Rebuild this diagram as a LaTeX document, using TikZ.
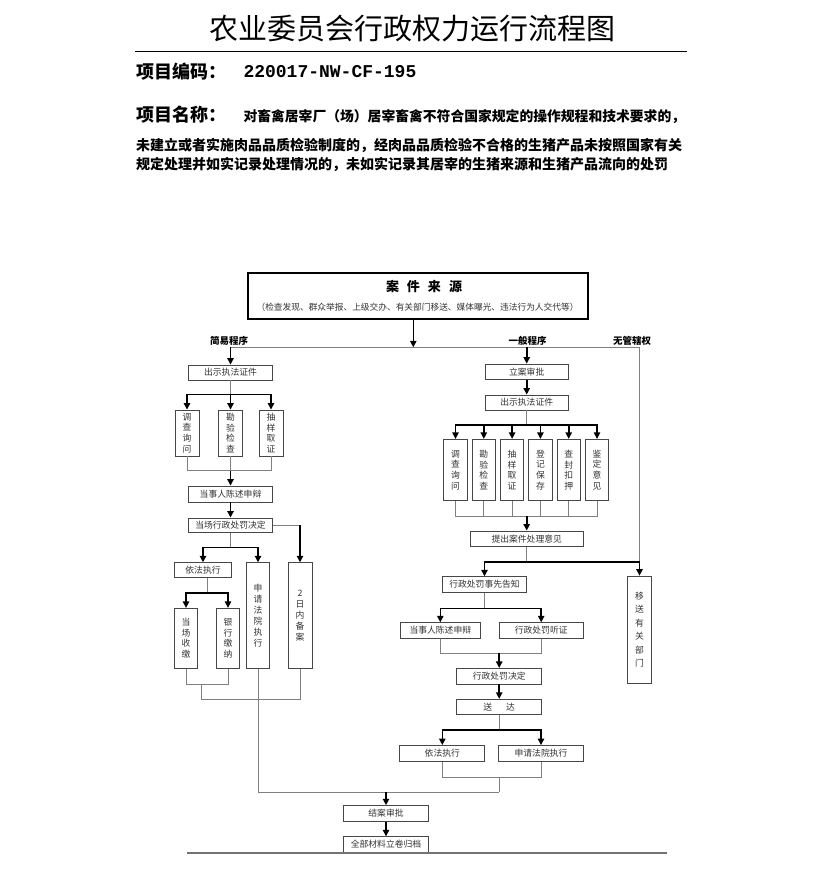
\documentclass[tikz,border=0pt]{standalone}
\usepackage{fontspec}
\usetikzlibrary{arrows.meta}
\newfontfamily\cjk{Noto Sans CJK SC}
\newfontfamily\codefont{Liberation Mono}
\definecolor{thinc}{gray}{0.5}
\definecolor{boxc}{gray}{0.28}
\definecolor{txtc}{gray}{0.2}
\tikzset{
  hbox/.style={draw=boxc, line width=0.8pt, fill=white, inner sep=0pt, font=\cjk\fontsize{8.8}{10}\selectfont, text=txtc, align=center},
  vbox/.style={hbox, font=\cjk\fontsize{8.8}{10.7}\selectfont},
  thinline/.style={draw=thinc, line width=0.9pt},
  arr/.style={draw=black, line width=1.6pt, -{Triangle[length=6.5pt,width=6.3pt]}},
  arrtwo/.style={draw=black, line width=1.6pt, line join=miter, {Triangle[length=6.5pt,width=6.3pt]}-{Triangle[length=6.5pt,width=6.3pt]}},
  lbl/.style={font=\cjk\bfseries\fontsize{9.5}{11}\selectfont, inner sep=0pt},
}
\begin{document}
\begin{tikzpicture}[x=1pt,y=-1pt]
\useasboundingbox (0,0) rectangle (823,873);
\fill[white] (0,0) rectangle (823,873);

% ---------- header ----------
\node[font=\cjk\fontsize{29}{32}\selectfont, inner sep=0pt] (title) at (412,29) {农业委员会行政权力运行流程图};
\draw[line width=0.9pt] (135,51.7) -- (687,51.7);
\node[anchor=west, font=\cjk\bfseries\fontsize{18}{20}\selectfont, inner sep=0pt] (codek) at (136,72) {项目编码：};
\node[anchor=west, font=\codefont\bfseries\fontsize{18}{20}\selectfont, inner sep=0pt] (codev) at (243.3,72) {220017-NW-CF-195};
\node[anchor=west, font=\cjk\bfseries\fontsize{18}{20}\selectfont, inner sep=0pt] (namek) at (136,114.5) {项目名称：};
\node[anchor=west, font=\cjk\bfseries\fontsize{13.8}{16}\selectfont, inner sep=0pt] (name1) at (243.3,116.7) {对畜禽居宰厂（场）居宰畜禽不符合国家规定的操作规程和技术要求的，};
\node[anchor=west, font=\cjk\bfseries\fontsize{14}{16}\selectfont, inner sep=0pt] (name2) at (136,145) {未建立或者实施肉品品质检验制度的，经肉品品质检验不合格的生猪产品未按照国家有关};
\node[anchor=west, font=\cjk\bfseries\fontsize{14}{16}\selectfont, inner sep=0pt] (name3) at (136,164.3) {规定处理并如实记录处理情况的，未如实记录其居宰的生猪来源和生猪产品流向的处罚};

% ---------- source box ----------
\node[draw=black, line width=1.8pt, minimum width=340pt, minimum height=46.6pt, inner sep=0pt] (src) at (418.3,296) {};
\node[font=\cjk\bfseries\fontsize{13}{15}\selectfont, inner sep=0pt] (srct) at (424,286.7) {案\hspace{8pt}件\hspace{8pt}来\hspace{8pt}源};
\node[font=\cjk\fontsize{8.7}{10}\selectfont, text=txtc, inner sep=0pt] (srcs) at (417.5,306.7) {（检查发现、群众举报、上级交办、有关部门移送、媒体曝光、违法行为人交代等）};

\coordinate (j0) at (413.3,347.3);
\coordinate (jL) at (230.5,347.3);
\coordinate (jR) at (526.7,347.3);
\coordinate (jX) at (639.5,347.3);
\coordinate (jX2) at (639.5,561.7);

\node[lbl] (lab1) at (229,340.5) {简易程序};
\node[lbl] (lab2) at (527.5,340.5) {一般程序};
\node[lbl] (lab3) at (632,340.5) {无管辖权};

% ---------- left column ----------
\node[hbox, minimum width=84.4pt, minimum height=15pt] (L1) at (230.5,372.5) {出示执法证件};
\node[vbox, minimum width=24pt, minimum height=46pt] (L1a) at (187,433) {调\\查\\询\\问};
\node[vbox, minimum width=24pt, minimum height=46pt] (L1b) at (230.5,433) {勘\\验\\检\\查};
\node[vbox, minimum width=24pt, minimum height=46pt] (L1c) at (271,433) {抽\\样\\取\\证};
\node[hbox, minimum width=84.4pt, minimum height=16pt] (L2) at (230.5,494) {当事人陈述申辩};
\node[hbox, minimum width=84.4pt, minimum height=14.7pt] (L3) at (230.5,525.3) {当场行政处罚决定};
\node[hbox, minimum width=56.7pt, minimum height=15pt] (L4) at (203,570.2) {依法执行};
\node[vbox, minimum width=23.3pt, minimum height=105.6pt, font=\cjk\fontsize{8.8}{11}\selectfont] (L5) at (258,615.5) {申\\请\\法\\院\\执\\行};
\node[vbox, minimum width=24pt, minimum height=105.6pt, font=\cjk\fontsize{8.8}{11}\selectfont] (L6) at (300,615.5) {2\\日\\内\\备\\案};
\node[vbox, minimum width=23.4pt, minimum height=60pt] (L7) at (186,638.3) {当\\场\\收\\缴};
\node[vbox, minimum width=22.6pt, minimum height=60pt] (L8) at (228,638.3) {银\\行\\缴\\纳};

% ---------- right column ----------
\node[hbox, minimum width=83.3pt, minimum height=15.3pt] (R1) at (526.7,371.7) {立案审批};
\node[hbox, minimum width=83.3pt, minimum height=15pt] (R2) at (526.7,402.5) {出示执法证件};
\node[vbox, minimum width=23.3pt, minimum height=61.4pt] (Ra) at (455.5,470) {调\\查\\询\\问};
\node[vbox, minimum width=23.3pt, minimum height=61.4pt] (Rb) at (483.8,470) {勘\\验\\检\\查};
\node[vbox, minimum width=23.3pt, minimum height=61.4pt] (Rc) at (512.1,470) {抽\\样\\取\\证};
\node[vbox, minimum width=23.3pt, minimum height=61.4pt] (Rd) at (540.4,470) {登\\记\\保\\存};
\node[vbox, minimum width=23.3pt, minimum height=61.4pt] (Re) at (568.7,470) {查\\封\\扣\\押};
\node[vbox, minimum width=23.3pt, minimum height=61.4pt] (Rf) at (597,470) {鉴\\定\\意\\见};
\node[hbox, minimum width=113.3pt, minimum height=15.7pt] (R3) at (526.7,538.8) {提出案件处理意见};
\node[hbox, minimum width=84pt, minimum height=15.6pt] (R4) at (484.5,584.5) {行政处罚事先告知};
\node[vbox, minimum width=23.3pt, minimum height=107.3pt, font=\cjk\fontsize{8.8}{13.5}\selectfont] (RX) at (639.5,629.7) {移\\送\\有\\关\\部\\门};
\node[hbox, minimum width=79.3pt, minimum height=15.6pt] (R5) at (440.3,630.5) {当事人陈述申辩};
\node[hbox, minimum width=84.3pt, minimum height=15.6pt] (R6) at (541.2,630.5) {行政处罚听证};
\node[hbox, minimum width=85pt, minimum height=15.7pt] (R7) at (499.2,676.2) {行政处罚决定};
\node[hbox, minimum width=85pt, minimum height=15pt] (R8) at (499.2,706.8) {送\hspace{14pt}达};
\node[hbox, minimum width=85pt, minimum height=16pt] (R9) at (442.3,753.5) {依法执行};
\node[hbox, minimum width=84.6pt, minimum height=16pt] (R10) at (541,753.5) {申请法院执行};

% ---------- bottom ----------
\node[hbox, minimum width=85pt, minimum height=15.7pt] (B1) at (386,813.5) {结案审批};
\node[hbox, minimum width=85pt, minimum height=15.5pt] (B2) at (386,844.5) {全部材料立卷归档};
\draw[draw=black!55, line width=1.6pt] (187,853) -- (667,853);

% ---------- connectors: top ----------
\draw[arr] (src.south -| j0) -- (j0);
\draw[thinline] (jL) -- (jX);
\draw[arr] (jL) -- (L1.north);
\draw[arr] (jR) -- (R1.north);
\draw[thinline] (jX) -- (jX2);

% ---------- connectors: left ----------
\coordinate (b1) at (230.5,394.3);
\draw[thinline] (L1.south) -- (b1);
\draw[arrtwo] (L1a.north) -- (L1a.north |- b1) -- (L1c.north |- b1) -- (L1c.north);
\draw[arr] (b1) -- (L1b.north);
\coordinate (c1) at (230.5,470.7);
\draw[thinline] (L1a.south) -- (L1a.south |- c1) -- (L1c.south |- c1) -- (L1c.south);
\draw[thinline] (L1b.south) -- (c1);
\draw[arr] (c1) -- (L2.north);
\draw[arr] (L2.south) -- (L3.north);
\coordinate (k1) at (300,525.3);
\draw[thinline] (L3.east) -- (k1);
\draw[arr] (k1) -- (L6.north);
\coordinate (b2) at (230.5,547.3);
\draw[thinline] (L3.south) -- (b2);
\draw[arrtwo] (L4.north) -- (L4.north |- b2) -- (L5.north |- b2) -- (L5.north);
\coordinate (b3) at (207,592.7);
\draw[thinline] (L4.south -| b3) -- (b3);
\draw[arrtwo] (L7.north) -- (L7.north |- b3) -- (L8.north |- b3) -- (L8.north);
\coordinate (c2) at (201.7,684.3);
\draw[thinline] (L7.south) -- (L7.south |- c2) -- (L8.south |- c2) -- (L8.south);
\coordinate (c3) at (201.7,699.3);
\draw[thinline] (c2) -- (c3) -- (L6.south |- c3) -- (L6.south);
\coordinate (m1) at (258,792);
\coordinate (m2) at (499.2,792);
\draw[thinline] (L5.south) -- (m1) -- (m2);

% ---------- connectors: right ----------
\draw[arr] (R1.south) -- (R2.north);
\coordinate (b4) at (526.7,425);
\draw[thinline] (R2.south) -- (b4);
\draw[arrtwo] (Ra.north) -- (Ra.north |- b4) -- (Rf.north |- b4) -- (Rf.north);
\foreach \n in {Rb,Rc,Rd,Re} \draw[arr] (\n.north |- b4) -- (\n.north);
\coordinate (c4) at (526.7,516);
\draw[thinline] (Ra.south) -- (Ra.south |- c4) -- (Rf.south |- c4) -- (Rf.south);
\foreach \n in {Rb,Rc,Rd,Re} \draw[thinline] (\n.south) -- (\n.south |- c4);
\draw[arr] (c4) -- (R3.north);
\coordinate (b5) at (526.7,561.7);
\draw[thinline] (R3.south) -- (b5);
\draw[arrtwo] (R4.north) -- (R4.north |- b5) -- (RX.north |- b5) -- (RX.north);
\coordinate (b6) at (484.5,608.3);
\draw[thinline] (R4.south) -- (b6);
\draw[arrtwo] (R5.north) -- (R5.north |- b6) -- (R6.north |- b6) -- (R6.north);
\coordinate (c5) at (499.2,653.3);
\draw[thinline] (R5.south) -- (R5.south |- c5) -- (R6.south |- c5) -- (R6.south);
\draw[arr] (c5) -- (R7.north);
\draw[arr] (R7.south) -- (R8.north);
\coordinate (b7) at (499.2,730);
\draw[thinline] (R8.south) -- (b7);
\draw[arrtwo] (R9.north) -- (R9.north |- b7) -- (R10.north |- b7) -- (R10.north);
\coordinate (c6) at (499.2,777);
\draw[thinline] (R9.south) -- (R9.south |- c6) -- (R10.south |- c6) -- (R10.south);
\draw[thinline] (c6) -- (m2);
\coordinate (m3) at (386,792);
\draw[arr] (m3) -- (B1.north);
\draw[arr] (B1.south) -- (B2.north);
\end{tikzpicture}
\end{document}
